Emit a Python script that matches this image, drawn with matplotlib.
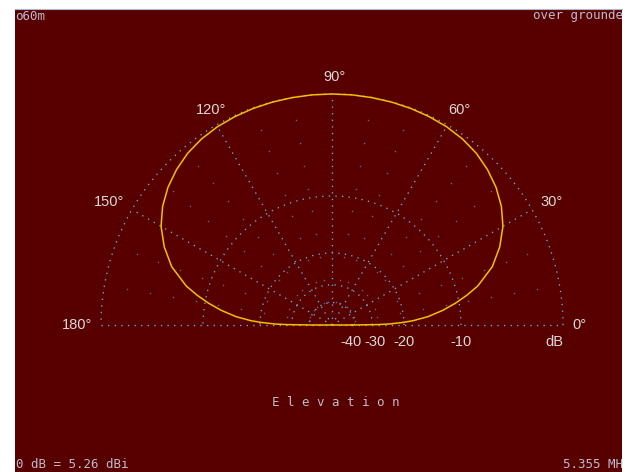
import numpy as np
import matplotlib
matplotlib.use("Agg")
import matplotlib.pyplot as plt
from matplotlib.patches import Rectangle

# Elevation pattern of a 60 m antenna over ground (ARRL log scale)
elev_deg = [0, 0.5, 1, 2, 3, 5, 7.5, 10, 12.5, 15, 20, 25, 30, 35, 40, 45,
            50, 55, 60, 65, 70, 75, 80, 85, 90, 95, 100, 105, 110, 115, 120,
            125, 130, 135, 140, 145, 150, 155, 160, 165, 167.5, 170, 172.5,
            175, 177, 178, 179, 179.5, 180]
gain_db = [-42, -28, -24, -20.5, -18, -15, -12.5, -10.5, -8.8, -7.3, -5.2,
           -3.8, -2.7, -1.9, -1.3, -0.85, -0.5, -0.28, -0.15, -0.08, -0.04,
           -0.02, -0.01, 0, 0, 0, -0.01, -0.02, -0.04, -0.08, -0.15, -0.28,
           -0.5, -0.85, -1.3, -1.9, -2.7, -3.8, -5.2, -7.3, -8.8, -10.5,
           -12.5, -15, -18, -20.5, -24, -28, -42]

ring_db = [0, -10, -20, -30, -40]
ring_labels = ["", "-10", "-20", "-30", "-40"]
angle_ticks = [0, 30, 60, 90, 120, 150, 180]
angle_labels = ["0°", "30°", "60°", "90°", "120°", "150°", "180°"]
minor_angles = [a for a in range(10, 180, 10) if a % 30 != 0]

title_left = "o60m"
title_right = "over grounde"
footer_left = "0 dB = 5.26 dBi"
footer_right = "5.355 MH"
plot_name = "E l e v a t i o n"

BG = "#580000"
GRID = "#58b4e8"
DIM = "#66638f"
TRACE = "#f2c000"
LABEL = "#d8d8d8"
HEAD = "#bcbccc"


def arrl_radius(db):
    # ARRL log scale: radius shrinks by 0.89 for every 2 dB
    return 0.89 ** (-np.asarray(db, dtype=float) / 2.0)


W, H = 625, 472
CX, CY, R = 332, 325, 231

fig = plt.figure(figsize=(W / 100, H / 100), dpi=100, facecolor="white")
fig.add_artist(Rectangle((15 / W, 0), (622 - 15) / W, (H - 9) / H,
                         transform=fig.transFigure, facecolor=BG,
                         edgecolor="none", zorder=-10))
fig.add_artist(plt.Line2D([15 / W, 622 / W], [1 - 8.5 / H, 1 - 8.5 / H],
                          transform=fig.transFigure, color="#a8b8cc",
                          lw=0.8, zorder=-9))

ax = fig.add_axes([0, 0, 1, 1])
ax.set_xlim(-CX / R, (W - CX) / R)
ax.set_ylim(-(H - CY) / R, CY / R)
ax.axis("off")

dot = (0, (1, 4))
half = np.linspace(0, np.pi, 400)

# dB rings
for db in ring_db:
    r = arrl_radius(db)
    ax.plot(r * np.cos(half), r * np.sin(half), color=GRID, lw=0.95,
            linestyle=dot, zorder=2)

# baseline
ax.plot([-1, 1], [0, 0], color=GRID, lw=0.95, linestyle=dot, zorder=2)

# main radials
for a in angle_ticks[1:-1]:
    t = np.radians(a)
    ax.plot([0, np.cos(t)], [0, np.sin(t)], color=GRID, lw=0.95,
            linestyle=dot, zorder=2)

# sparse secondary radials
for a in minor_angles:
    t = np.radians(a)
    rr = np.arange(0.1, 1.0, 0.1)
    ax.plot(rr * np.cos(t), rr * np.sin(t), linestyle="none", marker="s",
            ms=1.0, mew=0, color=DIM, zorder=1)

# pattern trace
th = np.radians(elev_deg)
rp = arrl_radius(gain_db)
xs = np.append(rp * np.cos(th), rp[0] * np.cos(th[0]))
ys = np.append(rp * np.sin(th), rp[0] * np.sin(th[0]))
ax.plot(xs, ys, color=TRACE, lw=1.1, zorder=3, solid_joinstyle="round")

# angle labels
label_font = dict(family="Liberation Sans", size=10.5, color=LABEL,
                  va="center")
for a, lab in zip(angle_ticks, angle_labels):
    t = np.radians(a)
    lift = 0 if a in (0, 180) else 3 / R
    if a in (0, 30):
        ax.text(1.04 * np.cos(t), 1.04 * np.sin(t) + lift, lab,
                ha="left", **label_font)
    elif a in (150, 180):
        ax.text(1.04 * np.cos(t), 1.04 * np.sin(t) + lift, lab,
                ha="right", **label_font)
    else:
        ax.text(1.075 * np.cos(t) + 3 / R, 1.075 * np.sin(t), lab,
                ha="center", **label_font)

# dB labels along the baseline
shift = {-30: 3 / R, -40: -3 / R}
for db, lab in zip(ring_db, ring_labels):
    if lab:
        ax.text(arrl_radius(db) + shift.get(db, 0), -17 / R, lab,
                ha="center", **label_font)
ax.text(1.0, -17 / R, "dB", ha="right", **label_font)

# header / footer text
mono = dict(family="DejaVu Sans Mono", size=9, color=HEAD)
fig.text(15 / W, 1 - 16 / H, title_left, ha="left", va="center", **mono)
fig.text(533 / W, 1 - 16 / H, title_right, ha="left", va="center", **mono)
fig.text(16 / W, 1 - 464 / H, footer_left, ha="left", va="center", **mono)
fig.text(563 / W, 1 - 464 / H, footer_right, ha="left", va="center", **mono)
fig.text(336 / W, 1 - 403 / H, plot_name, ha="center", va="center", **mono)

fig.savefig("out.png", dpi=100, facecolor="white")
